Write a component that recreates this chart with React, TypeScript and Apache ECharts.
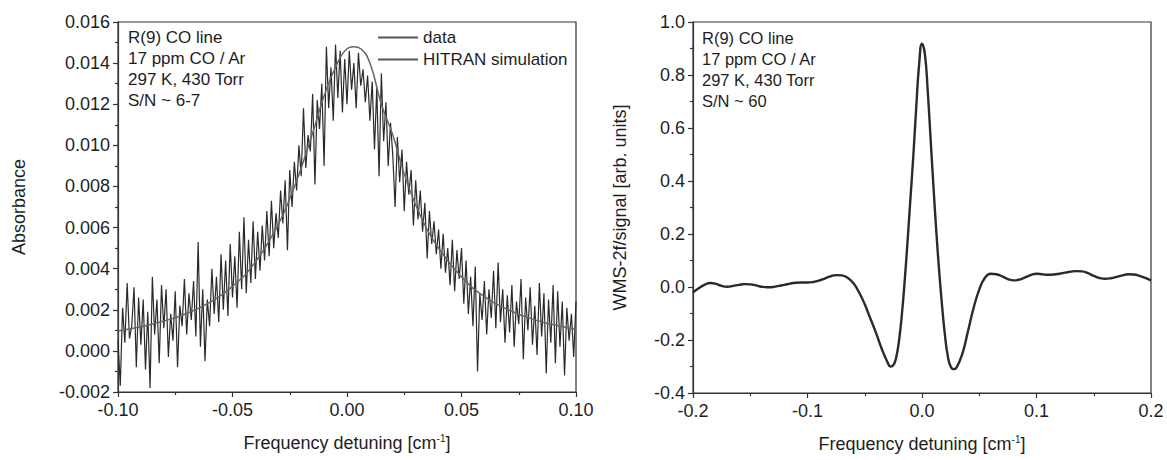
import React, { useEffect, useRef } from "react";
import * as echarts from "echarts";

const FONT = "'Liberation Sans', Arial, Helvetica, sans-serif";
const INK = "#1e1e1e";

// ---- Left panel: absorbance ----
const dataXStart = -0.1;
const dataXStep = 0.001;
const dataAbs = [
  0.0005, -0.0017, 0.0021, 0.0004, 0.0033, 0.0006, 0.0012, 0.0031, -0.0008, 0.0026,
  0.0003, 0.0025, -0.0009, 0.0019, -0.0018, 0.0036, 0.0008, 0.0025, -0.0006, 0.0032,
  0.0011, 0.0030, -0.0003, 0.0018, 0.0005, 0.0029, -0.0008, 0.0022, 0.0012, 0.0035,
  0.0008, 0.0028, 0.0015, 0.0034, 0.0007, 0.0053, 0.0002, 0.0030, -0.0005, 0.0025,
  0.0012, 0.0040, 0.0018, 0.0036, 0.0014, 0.0047, 0.0020, 0.0044, 0.0017, 0.0052,
  0.0026, 0.0046, 0.0021, 0.0058, 0.0030, 0.0065, 0.0028, 0.0054, 0.0033, 0.0063,
  0.0035, 0.0058, 0.0039, 0.0061, 0.0044, 0.0068, 0.0046, 0.0073, 0.0050, 0.0067,
  0.0055, 0.0078, 0.0062, 0.0083, 0.0049, 0.0088, 0.0070, 0.0092, 0.0078, 0.0100,
  0.0085, 0.0118, 0.0089, 0.0105, 0.0097, 0.0125, 0.0081, 0.0122, 0.0108, 0.0130,
  0.0090, 0.0148, 0.0118, 0.0138, 0.0112, 0.0149, 0.0123, 0.0146, 0.0116, 0.0142,
  0.0120, 0.0146, 0.0127, 0.0140, 0.0118, 0.0145, 0.0129, 0.0137, 0.0121, 0.0134,
  0.0112, 0.0131, 0.0098, 0.0128, 0.0085, 0.0135, 0.0102, 0.0121, 0.0090, 0.0111,
  0.0095, 0.0070, 0.0104, 0.0082, 0.0098, 0.0068, 0.0092, 0.0076, 0.0088, 0.0061,
  0.0083, 0.0064, 0.0078, 0.0058, 0.0072, 0.0045, 0.0068, 0.0052, 0.0063, 0.0047,
  0.0059, 0.0040, 0.0057, 0.0038, 0.0050, 0.0032, 0.0054, 0.0029, 0.0049, 0.0035,
  0.0050, 0.0023, 0.0044, 0.0018, 0.0036, 0.0012, 0.0041, -0.0010, 0.0028, 0.0015,
  0.0034, 0.0008, 0.0030, 0.0016, 0.0039, 0.0011, 0.0043, 0.0014, 0.0030, 0.0004,
  0.0027, 0.0009, 0.0032, 0.0002, 0.0024, 0.0013, 0.0035, -0.0004, 0.0026, 0.0010,
  0.0031, 0.0003, 0.0022, -0.0002, 0.0033, 0.0007, 0.0028, -0.0011, 0.0025, 0.0004,
  0.0032, -0.0006, 0.0029, 0.0002, 0.0024, -0.0012, 0.0021, 0.0005, 0.0018, -0.0003, 0.0024,
];
const hitranX = [
  -0.1, -0.09, -0.08, -0.07, -0.06, -0.05, -0.04, -0.03, -0.025, -0.02, -0.015, -0.01, -0.005,
  0, 0.003, 0.006, 0.01, 0.015, 0.02, 0.025, 0.03, 0.035, 0.04, 0.05, 0.06, 0.07, 0.08, 0.09, 0.1,
];
const hitranY = [
  0.00097, 0.00117, 0.00145, 0.00182, 0.00236, 0.00314, 0.00433, 0.00616, 0.0074, 0.0089, 0.0106,
  0.0124, 0.0138, 0.0147, 0.0148, 0.0147, 0.014, 0.012, 0.0105, 0.0086, 0.0071, 0.0059, 0.005,
  0.0036, 0.00264, 0.00202, 0.00158, 0.00128, 0.00104,
];
const leftNotes = ["R(9) CO line", "17 ppm CO / Ar", "297 K, 430 Torr", "S/N ~ 6-7"];

// ---- Right panel: WMS-2f ----
const wmsX = [
  -0.2, -0.195, -0.19, -0.185, -0.18, -0.175, -0.17, -0.165, -0.16, -0.155, -0.15, -0.145, -0.14,
  -0.135, -0.13, -0.125, -0.12, -0.115, -0.11, -0.105, -0.1, -0.095, -0.09, -0.085, -0.08, -0.075,
  -0.07, -0.065, -0.06, -0.055, -0.05, -0.045, -0.04, -0.035, -0.03, -0.0275, -0.025, -0.0225,
  -0.02, -0.0175, -0.015, -0.0125, -0.01, -0.0075, -0.005, -0.0025, 0, 0.0025, 0.005, 0.0075,
  0.01, 0.0125, 0.015, 0.0175, 0.02, 0.0225, 0.025, 0.0275, 0.03, 0.035, 0.04, 0.045, 0.05, 0.055,
  0.06, 0.065, 0.07, 0.075, 0.08, 0.085, 0.09, 0.095, 0.1, 0.105, 0.11, 0.115, 0.12, 0.125, 0.13,
  0.135, 0.14, 0.145, 0.15, 0.155, 0.16, 0.165, 0.17, 0.175, 0.18, 0.185, 0.19, 0.195, 0.2,
];
const wmsY = [
  -0.02, -0.005, 0.008, 0.015, 0.012, 0.004, 0.001, 0.004, 0.008, 0.011, 0.01, 0.006, 0.001,
  -0.001, 0.0, 0.004, 0.008, 0.013, 0.016, 0.017, 0.017, 0.019, 0.024, 0.032, 0.04, 0.045,
  0.044, 0.035, 0.015, -0.02, -0.065, -0.12, -0.175, -0.235, -0.285, -0.3, -0.295, -0.265,
  -0.2, -0.1, 0.03, 0.18, 0.34, 0.5, 0.68, 0.84, 0.918, 0.88, 0.74, 0.56,
  0.38, 0.21, 0.06, -0.07, -0.18, -0.26, -0.3, -0.31, -0.305, -0.255, -0.17, -0.08, -0.01, 0.035,
  0.05, 0.048, 0.04, 0.03, 0.025, 0.028, 0.036, 0.045, 0.05, 0.048, 0.046, 0.047, 0.05, 0.054, 0.058,
  0.06, 0.059, 0.052, 0.042, 0.034, 0.031, 0.033, 0.038, 0.044, 0.048, 0.047, 0.042, 0.034, 0.025,
];
const rightNotes = ["R(9) CO line", "17 ppm CO / Ar", "297 K, 430 Torr", "S/N ~ 60"];

const clean = (v: number) => (Math.abs(v) < 1e-9 ? 0 : v);

function axisCommon() {
  return {
    axisLine: { show: true, onZero: false, lineStyle: { color: "#333", width: 1.2 } },
    axisTick: { show: true, inside: false, length: 5, lineStyle: { color: "#333", width: 1.2 } },
    minorTick: { show: true, splitNumber: 2, length: 3, lineStyle: { color: "#333", width: 1.2 } },
    splitLine: { show: false },
    axisLabel: { color: INK, fontSize: 18, fontFamily: FONT, margin: 9 },
  };
}

const freqName = "{a|Frequency detuning [cm}{s|-1}{a|]}";
const freqRich = {
  a: { fontSize: 18, fontFamily: FONT, color: INK, lineHeight: 20 },
  s: { fontSize: 10, fontFamily: FONT, color: INK, verticalAlign: "top", lineHeight: 10 },
};

export default function App() {
  const ref = useRef<HTMLDivElement>(null);
  useEffect(() => {
    document.body.style.margin = "0";
    if (!ref.current) return;
    const chart = echarts.init(ref.current, null, { renderer: "svg" });
    const dataPairs = dataAbs.map((v, i) => [clean(dataXStart + i * dataXStep), v]);
    const hitranPairs = hitranX.map((x, i) => [x, hitranY[i]]);
    const wmsPairs = wmsX.map((x, i) => [x, wmsY[i]]);
    const c = axisCommon();
    chart.setOption({
      animation: false,
      backgroundColor: "#fff",
      textStyle: { fontFamily: FONT },
      grid: [
        { left: 118, right: 591, top: 22, bottom: 68, show: true, borderColor: "#333", borderWidth: 1.2 },
        { left: 693, right: 16, top: 22, bottom: 67, show: true, borderColor: "#333", borderWidth: 1.2 },
      ],
      legend: {
        data: ["data", "HITRAN simulation"],
        orient: "vertical",
        left: 378,
        top: 29,
        padding: 0,
        itemWidth: 40,
        itemHeight: 2,
        itemGap: 5,
        icon: "rect",
        textStyle: { fontSize: 17, color: INK, fontFamily: FONT },
      },
      xAxis: [
        {
          ...c,
          gridIndex: 0,
          type: "value",
          min: -0.1,
          max: 0.1,
          interval: 0.05,
          axisLabel: { ...c.axisLabel, formatter: (v: number) => clean(v).toFixed(2) },
          name: freqName,
          nameLocation: "middle",
          nameGap: 41,
          nameTextStyle: { rich: freqRich },
        },
        {
          ...c,
          gridIndex: 1,
          type: "value",
          min: -0.2,
          max: 0.2,
          interval: 0.1,
          axisLabel: { ...c.axisLabel, formatter: (v: number) => clean(v).toFixed(1) },
          name: freqName,
          nameLocation: "middle",
          nameGap: 41,
          nameTextStyle: { rich: freqRich },
        },
      ],
      yAxis: [
        {
          ...c,
          gridIndex: 0,
          type: "value",
          min: -0.002,
          max: 0.016,
          interval: 0.002,
          axisLabel: { ...c.axisLabel, margin: 8, formatter: (v: number) => clean(v).toFixed(3) },
          name: "Absorbance",
          nameLocation: "middle",
          nameGap: 90,
          nameTextStyle: { fontSize: 18, color: INK, fontFamily: FONT },
        },
        {
          ...c,
          gridIndex: 1,
          type: "value",
          min: -0.4,
          max: 1.0,
          interval: 0.2,
          axisLabel: { ...c.axisLabel, margin: 8, formatter: (v: number) => clean(v).toFixed(1) },
          name: "WMS-2f/signal [arb. units]",
          nameLocation: "middle",
          nameGap: 64,
          nameTextStyle: { fontSize: 18, color: INK, fontFamily: FONT },
        },
      ],
      series: [
        {
          name: "data",
          type: "line",
          xAxisIndex: 0,
          yAxisIndex: 0,
          data: dataPairs,
          showSymbol: false,
          symbol: "none",
          lineStyle: { color: "#2a2a2a", width: 1.2 },
          itemStyle: { color: "#555" },
          z: 2,
        },
        {
          name: "HITRAN simulation",
          type: "line",
          xAxisIndex: 0,
          yAxisIndex: 0,
          data: hitranPairs,
          smooth: true,
          showSymbol: false,
          symbol: "none",
          lineStyle: { color: "#666", width: 1.5 },
          itemStyle: { color: "#555" },
          z: 3,
        },
        {
          name: "WMS-2f",
          type: "line",
          xAxisIndex: 1,
          yAxisIndex: 1,
          data: wmsPairs,
          smooth: true,
          showSymbol: false,
          symbol: "none",
          lineStyle: { color: "#2a2a2a", width: 2.4 },
          itemStyle: { color: "#2a2a2a" },
        },
      ],
      graphic: [
        {
          type: "text",
          x: 128,
          y: 27,
          style: {
            text: leftNotes.join("\n"),
            fontSize: 17,
            fontFamily: FONT,
            fill: INK,
            lineHeight: 21,
            verticalAlign: "top",
          },
        },
        {
          type: "text",
          x: 702,
          y: 27,
          style: {
            text: rightNotes.join("\n"),
            fontSize: 16.5,
            fontFamily: FONT,
            fill: INK,
            lineHeight: 21,
            verticalAlign: "top",
          },
        },
      ],
    });
    return () => chart.dispose();
  }, []);
  return <div ref={ref} style={{ width: 1167, height: 460 }} />;
}
